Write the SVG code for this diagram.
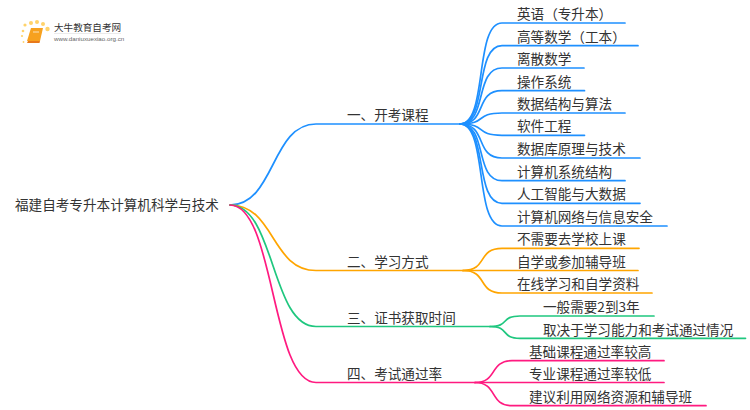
<svg xmlns="http://www.w3.org/2000/svg" width="750" height="410" viewBox="0 0 750 410">
<style>
text{font-family:"Noto Sans CJK SC","Noto Sans",sans-serif;font-size:13.6px;fill:#333}
.l{fill:none;stroke-width:1.7;stroke-linecap:round}
.b{stroke:#1e90ff}.o{stroke:#ffa500}.g{stroke:#1fc77f}.p{stroke:#ff1a80}
</style>
<rect width="750" height="410" fill="#fff"/>
<g id="connectors">
<path class="l b" d="M230 205C275 205 271 124 316 124H460"/>
<path class="l o" d="M230 205C275 205 271 270.500 316 270.500H463"/>
<path class="l g" d="M230 205C275 205 271 326.500 316 326.500H490"/>
<path class="l p" d="M230 205C275 205 271 382.500 316 382.500H475"/>
<path class="l b" d="M460 124C488 124 474 23 502 23H625"/>
<path class="l b" d="M460 124C488 124 474 45.700 502 45.700H638"/>
<path class="l b" d="M460 124C488 124 474 68 502 68H584"/>
<path class="l b" d="M460 124C488 124 474 90.700 502 90.700H584.500"/>
<path class="l b" d="M460 124C488 124 474 113 502 113H625"/>
<path class="l b" d="M460 124C488 124 474 135.300 502 135.300H584.500"/>
<path class="l b" d="M460 124C488 124 474 158 502 158H640"/>
<path class="l b" d="M460 124C488 124 474 180.700 502 180.700H625"/>
<path class="l b" d="M460 124C488 124 474 203.300 502 203.300H640"/>
<path class="l b" d="M460 124C488 124 474 226 502 226H667"/>
<path class="l o" d="M463 270.500C488 270.500 477 248.300 502 248.300H639"/>
<path class="l o" d="M463 270.500H638"/>
<path class="l o" d="M463 270.500C488 270.500 477 293 502 293H652"/>
<path class="l g" d="M490 326.500C510 326.500 500 316 520 316H654"/>
<path class="l g" d="M490 326.500C510 326.500 500 338.300 520 338.300H745.500"/>
<path class="l p" d="M475 382.500C498 382.500 489 360.700 512 360.700H664"/>
<path class="l p" d="M475 382.500H664"/>
<path class="l p" d="M475 382.500C498 382.500 489 405.700 512 405.700H706"/>
</g>
<g id="logo">
<g fill="#ffd36b"><circle cx="25" cy="25" r="1.600"/><circle cx="31" cy="23" r="2"/><circle cx="37" cy="22" r="2"/><circle cx="43" cy="24" r="2"/><circle cx="47.500" cy="29" r="2.200"/><circle cx="23" cy="31" r="1.300"/><circle cx="22" cy="36" r="1.100"/><circle cx="23.500" cy="42" r="0.900"/></g>
<path d="M31 28H43L40 41H27Z" fill="#f7a11f"/>
<path d="M28 41H40L39.500 43H27Z" fill="#e8791a"/>
<path d="M33 32H39" stroke="#fff" stroke-width="1" opacity=".7"/>
<text x="54" y="31" style="font-size:9.600px">大牛教育自考网</text>
<path d="M54 33.500H121" stroke="#ddd" stroke-width=".6"/>
<text x="54" y="41" style="font-family:'Liberation Sans',sans-serif;font-size:6.200px;fill:#666">www.daniuxuexiao.org.cn</text>
</g>
<g id="root"><text x="15" y="210">福建自考专升本计算机科学与技术</text></g>
<g id="b1"><text x="347" y="120">一、开考课程</text></g>
<g id="b2"><text x="347" y="266.500">二、学习方式</text></g>
<g id="b3"><text x="347" y="323">三、证书获取时间</text></g>
<g id="b4"><text x="347" y="379">四、考试通过率</text></g>
<g id="n1"><text x="517" y="19">英语（专升本）</text></g>
<g id="n2"><text x="517" y="41.500">高等数学（工本）</text></g>
<g id="n3"><text x="517" y="64">离散数学</text></g>
<g id="n4"><text x="517" y="86.500">操作系统</text></g>
<g id="n5"><text x="517" y="109">数据结构与算法</text></g>
<g id="n6"><text x="517" y="131">软件工程</text></g>
<g id="n7"><text x="517" y="154">数据库原理与技术</text></g>
<g id="n8"><text x="517" y="176.500">计算机系统结构</text></g>
<g id="n9"><text x="517" y="199">人工智能与大数据</text></g>
<g id="n10"><text x="517" y="222">计算机网络与信息安全</text></g>
<g id="n11"><text x="517" y="244">不需要去学校上课</text></g>
<g id="n12"><text x="517" y="266.500">自学或参加辅导班</text></g>
<g id="n13"><text x="517" y="289">在线学习和自学资料</text></g>
<g id="n14"><text x="543" y="312">一般需要2到3年</text></g>
<g id="n15"><text x="543" y="334.500">取决于学习能力和考试通过情况</text></g>
<g id="n16"><text x="529" y="357">基础课程通过率较高</text></g>
<g id="n17"><text x="529" y="379">专业课程通过率较低</text></g>
<g id="n18"><text x="529" y="402">建议利用网络资源和辅导班</text></g>
</svg>
